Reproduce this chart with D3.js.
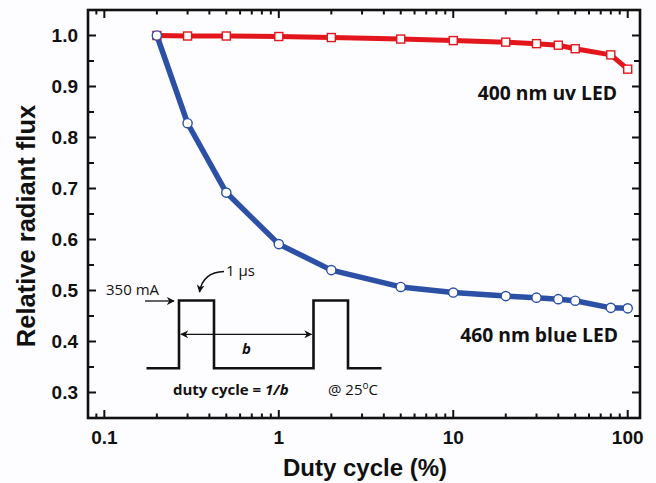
<!DOCTYPE html>
<html><head><meta charset="utf-8">
<script src="https://cdn.jsdelivr.net/npm/d3@7"></script>
<style>
html,body{margin:0;padding:0;background:#fdfcfe;}
svg{display:block;}
</style></head>
<body>
<svg id="chart" width="656" height="483"></svg>
<script>
// ---- data ----
const dutyCycle = [0.2, 0.3, 0.5, 1, 2, 5, 10, 20, 30, 40, 50, 80, 100];
const uvLED = [1.000, 0.999, 0.999, 0.998, 0.996, 0.993, 0.990, 0.987, 0.984, 0.981, 0.974, 0.962, 0.934];
const blueLED = [1.000, 0.828, 0.692, 0.591, 0.540, 0.507, 0.496, 0.489, 0.486, 0.483, 0.480, 0.466, 0.465];
const xTickLabels = [0.1, 1, 10, 100];
const yTickLabels = [0.3, 0.4, 0.5, 0.6, 0.7, 0.8, 0.9, 1.0];
const seriesNames = ["400 nm uv LED", "460 nm blue LED"];

const svg = d3.select("#chart");
const L = 88, R = 640, T = 10, B = 418;
const x = d3.scaleLog().domain([0.0806, 117.6]).range([L, R]);
const y = d3.scaleLinear().domain([0.25, 1.05]).range([B, T]);

const axisColor = "#111";
const tickFont = "'Liberation Sans', Arial, sans-serif";

// minor/major ticks
const xAll = x.ticks().filter(v => v >= x.domain()[0] && v <= x.domain()[1]);
const isMajorX = v => Math.abs(Math.log10(v) - Math.round(Math.log10(v))) < 1e-9;
const yAll = d3.range(0.30, 1.0001, 0.05).map(v => +v.toFixed(2));
const isMajorY = v => Math.abs(v * 10 - Math.round(v * 10)) < 1e-6;

const g = svg.append("g");
xAll.forEach(v => {
  const len = isMajorX(v) ? 8 : 4.5;
  g.append("line").attr("x1", x(v)).attr("x2", x(v)).attr("y1", B).attr("y2", B - len)
    .attr("stroke", axisColor).attr("stroke-width", 2);
  g.append("line").attr("x1", x(v)).attr("x2", x(v)).attr("y1", T).attr("y2", T + len)
    .attr("stroke", axisColor).attr("stroke-width", 2);
});
yAll.forEach(v => {
  const len = isMajorY(v) ? 8 : 6;
  g.append("line").attr("x1", L).attr("x2", L + len).attr("y1", y(v)).attr("y2", y(v))
    .attr("stroke", axisColor).attr("stroke-width", 2);
  g.append("line").attr("x1", R).attr("x2", R - len).attr("y1", y(v)).attr("y2", y(v))
    .attr("stroke", axisColor).attr("stroke-width", 2);
});
g.append("rect").attr("x", L).attr("y", T).attr("width", R - L).attr("height", B - T)
  .attr("fill", "none").attr("stroke", axisColor).attr("stroke-width", 2.6);

xTickLabels.forEach(v => {
  g.append("text").attr("x", x(v)).attr("y", 443.5).attr("text-anchor", "middle")
    .attr("font-family", tickFont).attr("font-weight", "bold").attr("font-size", 19)
    .attr("fill", "#111").text(v);
});
yTickLabels.forEach(v => {
  g.append("text").attr("x", 78).attr("y", y(v)).attr("dy", "0.36em").attr("text-anchor", "end")
    .attr("font-family", tickFont).attr("font-weight", "bold").attr("font-size", 19)
    .attr("fill", "#111").text(v.toFixed(1));
});

// axis titles
svg.append("text").attr("x", 365).attr("y", 476).attr("text-anchor", "middle")
  .attr("font-family", tickFont).attr("font-weight", "bold").attr("font-size", 24)
  .attr("fill", "#111").text("Duty cycle (%)");
svg.append("text").attr("transform", "translate(35,226) rotate(-90)").attr("text-anchor", "middle")
  .attr("font-family", tickFont).attr("font-weight", "bold").attr("font-size", 25.5)
  .attr("fill", "#111").text("Relative radiant flux");

// series
const red = "#e2161c", blue = "#2b50a6";
const line = d3.line().x(d => x(d[0])).y(d => y(d[1]));
const uvPts = dutyCycle.map((d, i) => [d, uvLED[i]]);
const bluePts = dutyCycle.map((d, i) => [d, blueLED[i]]);

svg.append("path").datum(uvPts).attr("d", line).attr("fill", "none")
  .attr("stroke", red).attr("stroke-width", 5).attr("stroke-linejoin", "round");
svg.append("path").datum(bluePts).attr("d", line).attr("fill", "none")
  .attr("stroke", blue).attr("stroke-width", 5.5).attr("stroke-linejoin", "round");

svg.selectAll(".sq").data(uvPts).enter().append("rect")
  .attr("x", d => x(d[0]) - 4).attr("y", d => y(d[1]) - 4).attr("width", 8).attr("height", 8)
  .attr("fill", "#fff").attr("stroke", red).attr("stroke-width", 1.4);
svg.selectAll(".ci").data(bluePts).enter().append("circle")
  .attr("cx", d => x(d[0])).attr("cy", d => y(d[1])).attr("r", 4.6)
  .attr("fill", "#fff").attr("stroke", blue).attr("stroke-width", 1.4);

// series labels
const labFont = "'Open Sans', 'Noto Sans', sans-serif";
svg.append("text").attr("x", 617).attr("y", 99.5).attr("text-anchor", "end")
  .attr("font-family", labFont).attr("font-weight", "bold").attr("font-size", 19.3)
  .attr("fill", "#111").text(seriesNames[0]);
svg.append("text").attr("x", 618).attr("y", 342).attr("text-anchor", "end")
  .attr("font-family", labFont).attr("font-weight", "bold").attr("font-size", 19.3)
  .attr("fill", "#111").text(seriesNames[1]);

// ---- inset: pulse diagram ----
const defs = svg.append("defs");
defs.append("marker").attr("id", "ah").attr("viewBox", "0 0 10 10").attr("refX", 9).attr("refY", 5)
  .attr("markerWidth", 8).attr("markerHeight", 8).attr("markerUnits", "userSpaceOnUse")
  .attr("orient", "auto-start-reverse")
  .append("path").attr("d", "M0,0 L10,5 L0,10 L3,5 Z").attr("fill", "#111");

const ins = svg.append("g");
const base = 368.3, high = 300.5;
ins.append("path")
  .attr("d", `M146.5,${base} H179 V${high} H214 V${base} H313.5 V${high} H348 V${base} H381.5`)
  .attr("fill", "none").attr("stroke", "#111").attr("stroke-width", 2.6);
ins.append("line").attr("x1", 181).attr("x2", 311.5).attr("y1", 334.3).attr("y2", 334.3)
  .attr("stroke", "#111").attr("stroke-width", 1.3)
  .attr("marker-start", "url(#ah)").attr("marker-end", "url(#ah)");
ins.append("line").attr("x1", 145).attr("x2", 174).attr("y1", 301).attr("y2", 301)
  .attr("stroke", "#111").attr("stroke-width", 1.3).attr("marker-end", "url(#ah)");
ins.append("path").attr("d", "M224,271.5 Q203,272 199.5,292")
  .attr("fill", "none").attr("stroke", "#111").attr("stroke-width", 1.5).attr("marker-end", "url(#ah)");

const inFont = "'Open Sans', 'Noto Sans', sans-serif";
ins.append("text").attr("x", 106).attr("y", 295).attr("font-family", inFont).attr("font-size", 15)
  .attr("fill", "#111").text("350 mA");
ins.append("text").attr("x", 226).attr("y", 276).attr("font-family", inFont).attr("font-size", 15)
  .attr("fill", "#111").text("1 μs");
ins.append("text").attr("x", 246.5).attr("y", 353.5).attr("text-anchor", "middle")
  .attr("font-family", inFont).attr("font-size", 15).attr("font-weight", "bold").attr("font-style", "italic")
  .attr("fill", "#111").text("b");
const dc = ins.append("text").attr("x", 173).attr("y", 394.5).attr("font-family", inFont)
  .attr("font-size", 15).attr("font-weight", "bold").attr("fill", "#111");
dc.append("tspan").text("duty cycle = ");
dc.append("tspan").attr("font-style", "italic").text("1/b");
const tc = ins.append("text").attr("x", 328).attr("y", 394.5).attr("font-family", inFont)
  .attr("font-size", 15).attr("fill", "#111");
tc.append("tspan").text("@ 25");
tc.append("tspan").attr("font-size", 10).attr("dy", -6).text("o");
tc.append("tspan").attr("dy", 6).text("C");
</script>
</body></html>
